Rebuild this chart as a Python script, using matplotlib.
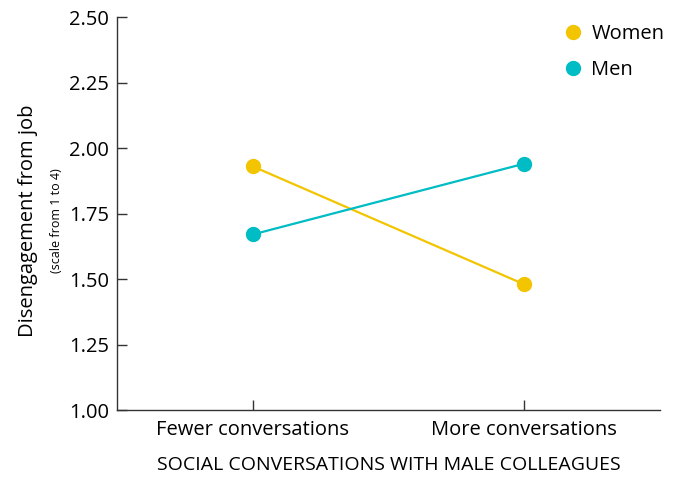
import matplotlib.pyplot as plt

plt.rcParams['font.family'] = ['Open Sans', 'DejaVu Sans']

categories = ["Fewer conversations", "More conversations"]
women = [1.93, 1.48]
men = [1.67, 1.94]
y_ticks = [1.00, 1.25, 1.50, 1.75, 2.00, 2.25, 2.50]

women_color = '#f2c500'
men_color = '#00bcc4'

fig = plt.figure(figsize=(6.78, 4.79), dpi=100)
ax = fig.add_axes([0.1726, 0.144, 0.8004, 0.8205])

x = range(len(categories))
ax.plot(x, women, color=women_color, lw=1.6, marker='o', ms=10, label='Women')
ax.plot(x, men, color=men_color, lw=1.6, marker='o', ms=10, label='Men')

ax.set_xlim(-0.5, 1.5)
ax.set_ylim(1.0, 2.5)
ax.set_xticks(list(x))
ax.set_xticklabels(categories, fontsize=14.5)
ax.set_yticks(y_ticks)
ax.set_yticklabels([f"{v:.2f}" for v in y_ticks], fontsize=14.5)
ax.tick_params(axis='both', direction='in', length=7, width=1, color='#333333')
ax.tick_params(axis='x', pad=7)
ax.tick_params(axis='y', pad=6)

for side in ['top', 'right']:
    ax.spines[side].set_visible(False)
for side in ['left', 'bottom']:
    ax.spines[side].set_color('#333333')
    ax.spines[side].set_linewidth(1)

ax.set_xlabel("SOCIAL CONVERSATIONS WITH MALE COLLEAGUES", fontsize=14, labelpad=12)

fig.text(0.042, 0.54, "Disengagement from job", rotation=90, ha='center', va='center', fontsize=14.5)
fig.text(0.083, 0.54, "(scale from 1 to 4)", rotation=90, ha='center', va='center', fontsize=9)

ax.legend(loc='upper right', bbox_to_anchor=(1.042, 1.028), frameon=False, fontsize=14.5,
          handlelength=0.8, handletextpad=0.5, labelspacing=0.8)
leg = ax.get_legend()
for line in leg.get_lines():
    line.set_linestyle('none')

fig.savefig("out.png", dpi=100)
